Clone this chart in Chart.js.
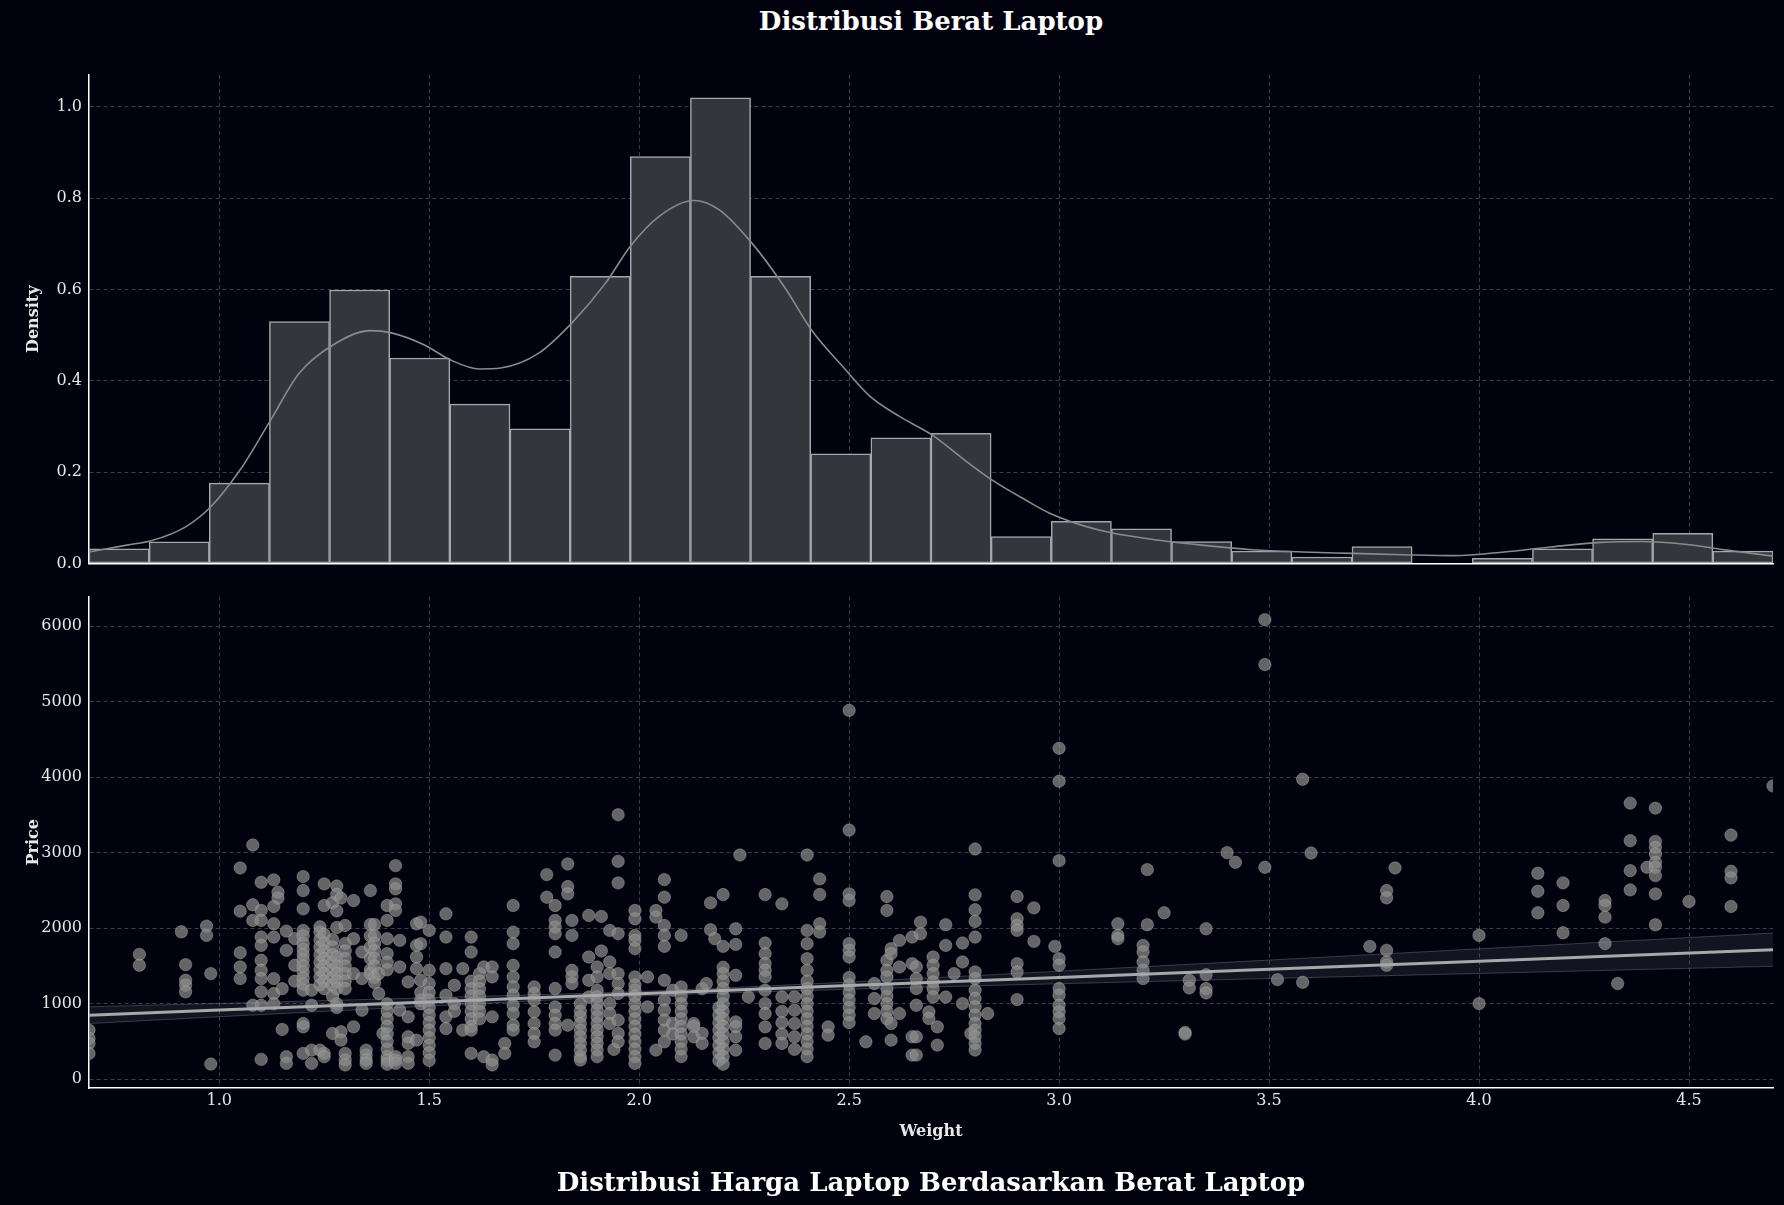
<!DOCTYPE html>
<html>
<head>
<meta charset="utf-8">
<script src="https://cdn.jsdelivr.net/npm/chart.js@4.4.1/dist/chart.umd.min.js"></script>
<style>
  body { margin: 0; background: #01020e; width: 1784px; height: 1205px; overflow: hidden; position: relative; }
  canvas { position: absolute; left: 0; }
  .title { position: absolute; left: 89px; width: 1684px; text-align: center; color: #ffffff;
           font-family: "DejaVu Serif", serif; font-weight: bold; font-size: 26px; line-height: 30px; }
</style>
</head>
<body>
<div class="title" style="top: 6px;">Distribusi Berat Laptop</div>
<canvas id="hist-chart" width="1784" height="580" style="top: 0;"></canvas>
<canvas id="scatter-chart" width="1784" height="625" style="top: 580px;"></canvas>
<div class="title" style="top: 1167px;">Distribusi Harga Laptop Berdasarkan Berat Laptop</div>

<script>
// histogram of weight (density), 28 bins between min and max weight
const WEIGHT_MIN = 0.69;
const WEIGHT_MAX = 4.70;
const binDensity = [0.032, 0.047, 0.176, 0.530, 0.599, 0.450, 0.349, 0.295, 0.629, 0.891,
  1.020, 0.629, 0.240, 0.275, 0.285, 0.059, 0.092, 0.076, 0.048, 0.027,
  0.014, 0.037, 0, 0.011, 0.032, 0.054, 0.066, 0.027];

// kde curve
const kdeWeight = [0.69, 0.78, 0.84, 0.92, 0.98, 1.05, 1.12, 1.19, 1.27, 1.36, 1.41, 1.49, 1.55,
  1.62, 1.67, 1.76, 1.84, 1.92, 1.98, 2.05, 2.13, 2.19, 2.27, 2.35, 2.41, 2.49, 2.55, 2.62,
  2.70, 2.77, 2.84, 2.92, 2.98, 3.10, 3.22, 3.34, 3.46, 3.58, 3.70, 3.82, 3.94, 4.06, 4.17,
  4.29, 4.39, 4.49, 4.59, 4.70];
const kdeDensity = [0.025, 0.040, 0.050, 0.080, 0.124, 0.205, 0.310, 0.416, 0.478, 0.510, 0.505,
  0.478, 0.446, 0.426, 0.428, 0.460, 0.527, 0.614, 0.696, 0.762, 0.795, 0.775, 0.700, 0.600,
  0.512, 0.426, 0.366, 0.322, 0.280, 0.230, 0.183, 0.139, 0.109, 0.072, 0.053, 0.040, 0.030,
  0.025, 0.022, 0.019, 0.017, 0.025, 0.036, 0.046, 0.048, 0.042, 0.029, 0.016];

// scatter: prices grouped by weight column
const weightCols = [0.69, 0.81, 0.91, 0.92, 0.97, 0.98, 1.05, 1.08, 1.10, 1.13, 1.14, 1.15, 1.16,
  1.18, 1.20, 1.22, 1.24, 1.25, 1.27, 1.28, 1.29, 1.30, 1.32, 1.34, 1.35, 1.36, 1.37, 1.38, 1.39,
  1.40, 1.42, 1.43, 1.45, 1.47, 1.48, 1.50, 1.54, 1.56, 1.58, 1.60, 1.62, 1.63, 1.65, 1.68, 1.70,
  1.75, 1.78, 1.80, 1.83, 1.84, 1.86, 1.88, 1.90, 1.91, 1.93, 1.94, 1.95, 1.99, 2.02, 2.04, 2.06,
  2.08, 2.10, 2.13, 2.15, 2.16, 2.17, 2.18, 2.19, 2.20, 2.23, 2.24, 2.26, 2.30, 2.34, 2.37, 2.40,
  2.43, 2.45, 2.50, 2.54, 2.56, 2.59, 2.60, 2.62, 2.65, 2.66, 2.67, 2.69, 2.70, 2.71, 2.73, 2.75,
  2.77, 2.79, 2.80, 2.83, 2.90, 2.94, 2.99, 3.00, 3.14, 3.20, 3.21, 3.25, 3.30, 3.31, 3.35, 3.40,
  3.42, 3.49, 3.52, 3.58, 3.60, 3.74, 3.78, 3.80, 4.00, 4.14, 4.20, 4.30, 4.33, 4.36, 4.40, 4.42,
  4.50, 4.60, 4.70];
const priceCols = [
  [651, 541, 475, 343], [1655, 1510], [1954], [1518, 1312, 1246, 1158], [2029, 1906], [1400, 202],
  [2799, 2227, 1677, 1488, 1334], [3103, 2311, 2104, 981],
  [2610, 2236, 2104, 1884, 1774, 1576, 1444, 1334, 1158, 981, 264],
  [2641, 2289, 2060, 1884, 1334, 1136, 1000], [2478, 2400], [660, 1200], [1963, 1708, 299, 211],
  [1862, 1510, 1300],
  [2685, 2500, 2258, 1972, 1900, 1800, 1720, 1650, 1580, 1500, 1420, 1340, 1260, 1180, 739, 695, 343],
  [1180, 981, 387, 211],
  [2020, 1950, 1850, 1750, 1650, 1550, 1450, 1350, 1250, 387],
  [2588, 2302, 1920, 1800, 1700, 1600, 1500, 1400, 1300, 1200, 343, 299],
  [2340, 1850, 1750, 1650, 1550, 1450, 1350, 1250, 1100, 607],
  [2560, 2450, 2230, 2010, 1620, 1500, 1400, 1300, 1200, 1000, 950],
  [2400, 629, 519],
  [2038, 1800, 1700, 1600, 1500, 1400, 1300, 1200, 343, 255, 190],
  [2368, 1862, 1400, 695], [1686, 1334, 915], [387, 321, 255, 211],
  [2500, 2050, 1900, 1750, 1600, 1450, 1400],
  [2050, 1900, 1800, 1700, 1600, 1500, 1350, 1280], [1400, 1136], [607],
  [2302, 2104, 1862, 1664, 1550, 1450, 1000, 900, 800, 700, 600, 500, 400, 300, 250, 200],
  [2830, 2588, 2522, 2324, 2236, 299, 255, 211], [1840, 1488, 915], [1290, 827, 563, 475, 299, 211],
  [2060, 1774, 1620, 1466, 519], [2082, 1796, 1312, 1150, 1050, 1000],
  [1972, 1444, 1268, 1150, 1050, 950, 850, 750, 650, 550, 450, 350, 250],
  [2192, 1884, 1466, 1114, 827, 673], [1246, 1000, 900], [1466, 651],
  [1884, 1686, 1300, 1200, 1100, 1000, 900, 800, 700, 651, 343],
  [1400, 1300, 1200, 1100, 1000, 900, 800], [1488, 299], [1488, 1356, 827, 255, 190], [475, 343],
  [2302, 1950, 1796, 1510, 1356, 1224, 1114, 981, 871, 717, 651],
  [1224, 1136, 1048, 893, 739, 607, 497], [2711, 2412],
  [2302, 2104, 2016, 1928, 1686, 1202, 959, 849, 739, 651, 321],
  [2852, 2553, 2456, 717], [2104, 1906, 1444, 1356, 1268],
  [1000, 900, 827, 739, 651, 563, 475, 387, 299, 255], [2170, 1620, 1312, 1092],
  [1488, 1356, 1180, 1092, 1004, 915, 827, 739, 651, 563, 475, 387, 299], [2157, 1700],
  [1972, 1554, 1400, 1003, 871, 739], [396],
  [3504, 2887, 2601, 1928, 1400, 1268, 1136, 783, 607, 497],
  [2236, 2126, 1906, 1840, 1730, 1356, 1250, 1180, 1100, 1000, 900, 800, 700, 600, 500, 400, 300, 211],
  [1356, 959], [2236, 2148, 387],
  [2645, 2412, 2038, 1906, 1761, 1312, 1048, 915, 783, 651, 497], [1180, 739, 600],
  [1906, 1224, 1100, 1000, 900, 800, 700, 600, 500, 400, 300], [739, 700, 563], [1200, 607, 475],
  [1268], [2337, 1981], [1862], [950, 850, 750, 650, 550, 450, 350, 250],
  [2447, 1761, 1484, 1400, 1300, 1200, 1100, 1000, 900, 800, 700, 600, 500, 400, 300, 200],
  [1994, 1787, 1378, 761, 695, 563, 387], [2971], [1092],
  [2447, 1805, 1664, 1532, 1444, 1356, 1180, 1003, 871, 695, 475],
  [2324, 1092, 900, 750, 600, 475], [1092, 915, 739, 563, 396],
  [2971, 1972, 1796, 1598, 1444, 1300, 1200, 1100, 1000, 900, 800, 700, 600, 500, 400, 300],
  [2654, 2447, 2060, 1950], [695, 585],
  [4886, 3301, 2456, 2368, 1796, 1708, 1620, 1350, 1250, 1150, 1050, 950, 850, 750],
  [497], [1268, 1070, 871], [2421, 2236, 1576, 1444, 1356, 1200, 1100, 1000, 900, 800],
  [1730, 1664, 739, 519], [1840, 1488, 871], [1884, 1532, 563, 321],
  [1488, 1334, 1202, 981, 563, 321], [2082, 1927], [893, 805], [1620, 1510, 1400, 1290, 1200, 1090],
  [695, 453], [2047, 1774, 1090], [1400], [1805, 1554, 1003], [607],
  [3050, 2443, 2245, 2091, 1884, 1422, 1334, 1180, 1070, 960, 849, 739, 651, 563, 475, 387],
  [871], [2421, 2126, 2038, 1972, 1532, 1422, 1056], [2271, 1827], [1761],
  [4384, 3948, 2896, 1598, 1510, 1202, 1114, 981, 893, 805, 673],
  [2060, 1906, 1862], [1774, 1686, 1554, 1444, 1334], [2777, 2047], [2205], [621, 600],
  [1312, 1210], [1994, 1386, 1202, 1144], [3002], [2874], [6087, 5493, 2808], [1320],
  [3974, 1285], [2997], [1761], [2500, 2403, 1708, 1554, 1510], [2799], [1906, 1003],
  [2729, 2491, 2205], [2601, 2302, 1941], [2368, 2302, 2148, 1796], [1268],
  [3658, 3160, 2764, 2509], [2808], [3592, 3151, 3072, 2984, 2874, 2808, 2698, 2456, 2047],
  [2355], [3235, 2755, 2667, 2289], [3886]
];

// regression fit and its confidence band
const regWeight = [0.69, 1.0, 1.5, 2.0, 2.5, 3.0, 3.5, 4.0, 4.70];
const regPrice = [850, 917, 1025, 1133, 1241, 1349, 1457, 1565, 1717];
const bandLow = [739, 829, 970, 1103, 1193, 1266, 1335, 1402, 1497];
const bandHigh = [961, 1005, 1080, 1163, 1289, 1432, 1579, 1728, 1937];

const weightTicks = [1.0, 1.5, 2.0, 2.5, 3.0, 3.5, 4.0, 4.5];
const densityTicks = [0.0, 0.2, 0.4, 0.6, 0.8, 1.0];
const priceTicks = [0, 1000, 2000, 3000, 4000, 5000, 6000];

const TEXT = "#e8e8e8";
const GRID = "rgba(78, 82, 98, 0.75)";
const FONT = "DejaVu Serif";

Chart.defaults.font.family = FONT;
Chart.defaults.color = TEXT;

function fixedTicks(values) {
  return scale => { scale.ticks = values.map(v => ({ value: v })); };
}

function gridOptions() {
  return { color: GRID, lineWidth: 1, drawTicks: false, offset: false };
}

function borderOptions(show) {
  return { display: show, color: "#ffffff", width: 1.5, dash: [4, 3] };
}

function zip(xs, ys) {
  return xs.map((x, i) => ({ x: x, y: ys[i] }));
}

function buildHistChart() {
  const binWidth = (WEIGHT_MAX - WEIGHT_MIN) / binDensity.length;
  const bars = binDensity.map((d, i) => ({ x: WEIGHT_MIN + binWidth * (i + 0.5), y: d }));

  new Chart("hist-chart", {
    data: {
      datasets: [
        {
          type: "line",
          data: zip(kdeWeight, kdeDensity),
          borderColor: "#8a8a8a",
          borderWidth: 1.6,
          pointRadius: 0,
          cubicInterpolationMode: "monotone",
          order: 0
        },
        {
          type: "bar",
          data: bars,
          backgroundColor: "#35363d",
          borderColor: "#a6a6ab",
          borderWidth: 1.5,
          borderSkipped: false,
          barPercentage: 1.0,
          categoryPercentage: 1.0,
          order: 1
        }
      ]
    },
    options: {
      responsive: false,
      animation: false,
      events: [],
      layout: { padding: { top: 75, right: 11, bottom: 13, left: 0 } },
      plugins: { legend: { display: false }, tooltip: { enabled: false } },
      scales: {
        x: {
          type: "linear",
          offset: false,
          min: WEIGHT_MIN,
          max: WEIGHT_MAX,
          afterBuildTicks: fixedTicks(weightTicks),
          afterFit: s => { s.height = 0; },
          ticks: { display: false },
          grid: gridOptions(),
          border: borderOptions(true)
        },
        y: {
          min: 0,
          max: 1.07,
          afterBuildTicks: fixedTicks(densityTicks),
          afterFit: s => { s.width = 89; },
          ticks: { padding: 7, font: { size: 16 }, color: TEXT, callback: v => v.toFixed(1) },
          grid: gridOptions(),
          border: borderOptions(true),
          title: {
            display: true,
            text: "Density",
            color: TEXT,
            font: { size: 16, weight: "bold" },
            padding: { top: 24, bottom: 0 }
          }
        }
      }
    }
  });
}

function buildScatterChart() {
  const points = [];
  weightCols.forEach((w, i) => {
    for (const p of priceCols[i]) {
      points.push({ x: w, y: p });
    }
  });

  new Chart("scatter-chart", {
    data: {
      datasets: [
        {
          type: "line",
          data: zip(regWeight, regPrice),
          borderColor: "#a8a8a8",
          borderWidth: 3,
          pointRadius: 0,
          order: 0
        },
        {
          type: "line",
          data: zip(regWeight, bandHigh),
          borderColor: "rgba(150, 150, 160, 0.35)",
          borderWidth: 1,
          pointRadius: 0,
          cubicInterpolationMode: "monotone",
          fill: false,
          order: 1
        },
        {
          type: "line",
          data: zip(regWeight, bandLow),
          borderColor: "rgba(150, 150, 160, 0.35)",
          borderWidth: 1,
          pointRadius: 0,
          cubicInterpolationMode: "monotone",
          fill: "-1",
          backgroundColor: "rgba(120, 120, 140, 0.16)",
          order: 1
        },
        {
          type: "scatter",
          data: points,
          backgroundColor: "rgba(140, 140, 140, 0.72)",
          borderColor: "rgba(180, 180, 180, 0.4)",
          borderWidth: 1,
          pointRadius: 6.2,
          clip: 0,
          order: 2
        }
      ]
    },
    options: {
      responsive: false,
      animation: false,
      events: [],
      layout: { padding: { top: 16, right: 11, bottom: 64, left: 0 } },
      plugins: { legend: { display: false }, tooltip: { enabled: false } },
      scales: {
        x: {
          type: "linear",
          min: WEIGHT_MIN,
          max: WEIGHT_MAX,
          afterBuildTicks: fixedTicks(weightTicks),
          afterFit: s => { s.height = 53; },
          ticks: { padding: 3, font: { size: 16 }, color: TEXT, callback: v => v.toFixed(1) },
          grid: gridOptions(),
          border: borderOptions(true),
          title: {
            display: true,
            text: "Weight",
            color: TEXT,
            font: { size: 16, weight: "bold" },
            padding: { top: 0, bottom: 0 }
          }
        },
        y: {
          min: -115,
          max: 6393,
          afterBuildTicks: fixedTicks(priceTicks),
          afterFit: s => { s.width = 89; },
          ticks: { padding: 7, font: { size: 16 }, color: TEXT, callback: v => String(v) },
          grid: gridOptions(),
          border: borderOptions(true),
          title: {
            display: true,
            text: "Price",
            color: TEXT,
            font: { size: 16, weight: "bold" },
            padding: { top: 24, bottom: 0 }
          }
        }
      }
    }
  });
}

buildHistChart();
buildScatterChart();
</script>
</body>
</html>
